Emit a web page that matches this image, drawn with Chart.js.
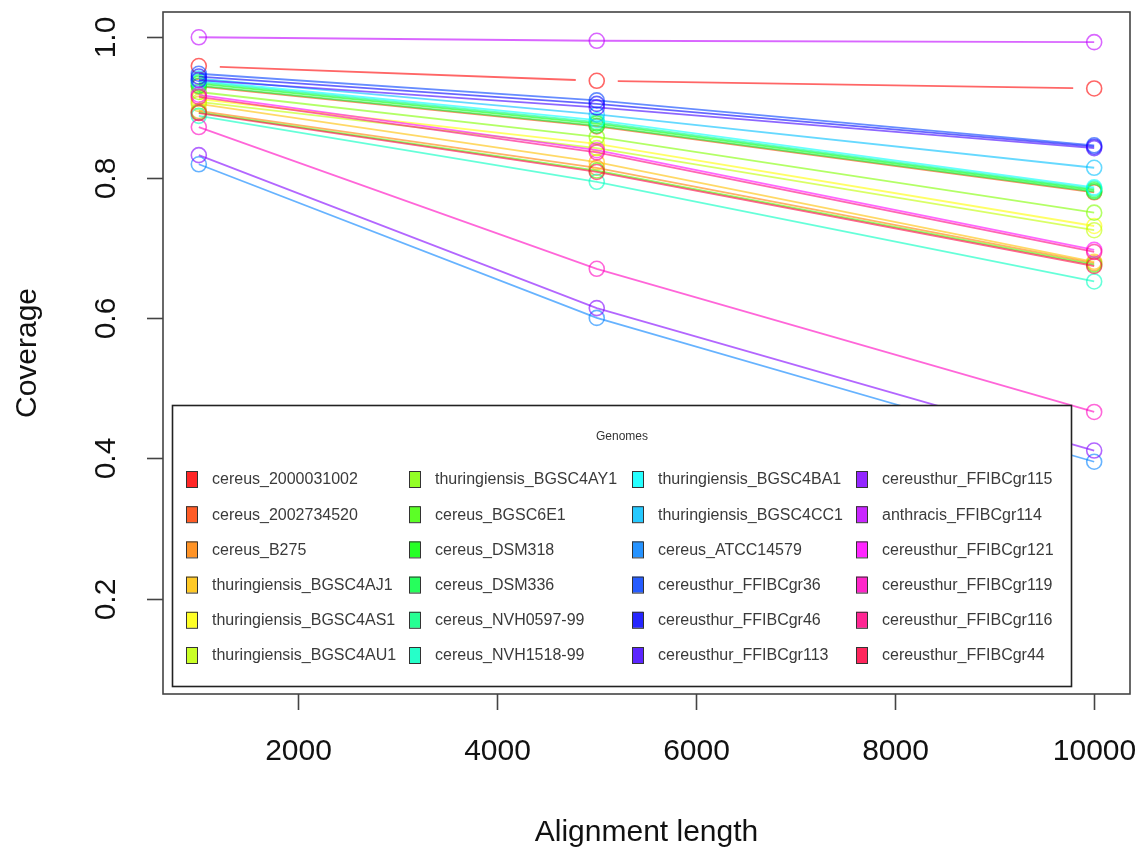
<!DOCTYPE html>
<html>
<head>
<meta charset="utf-8">
<script src="https://cdn.jsdelivr.net/npm/chart.js@4/dist/chart.umd.min.js"></script>
<style>
  html, body { margin: 0; padding: 0; background: #ffffff; }
  #wrap { width: 1141px; height: 852px; }
</style>
</head>
<body>
<div id="wrap"><canvas id="chart" width="1141" height="852"></canvas></div>
<script>
// Alignment lengths sampled
const alignmentLengths = [1000, 5000, 10000];

// Genome names, in legend order
const genomes = [
  "cereus_2000031002", "cereus_2002734520", "cereus_B275", "thuringiensis_BGSC4AJ1",
  "thuringiensis_BGSC4AS1", "thuringiensis_BGSC4AU1", "thuringiensis_BGSC4AY1", "cereus_BGSC6E1",
  "cereus_DSM318", "cereus_DSM336", "cereus_NVH0597-99", "cereus_NVH1518-99",
  "thuringiensis_BGSC4BA1", "thuringiensis_BGSC4CC1", "cereus_ATCC14579", "cereusthur_FFIBCgr36",
  "cereusthur_FFIBCgr46", "cereusthur_FFIBCgr113", "cereusthur_FFIBCgr115", "anthracis_FFIBCgr114",
  "cereusthur_FFIBCgr121", "cereusthur_FFIBCgr119", "cereusthur_FFIBCgr116", "cereusthur_FFIBCgr44"
];

// Coverage of each genome at each alignment length
const coverageAt1000 = [
  0.959, 0.930, 0.895, 0.905, 0.912, 0.908, 0.922, 0.893,
  0.934, 0.931, 0.936, 0.888, 0.938, 0.941, 0.819, 0.948,
  0.944, 0.939, 0.832, 1.000, 0.918, 0.872, 0.915, 0.892
];
const coverageAt5000 = [
  0.938, 0.873, 0.814, 0.822, 0.848, 0.842, 0.858, 0.810,
  0.877, 0.874, 0.879, 0.794, 0.882, 0.890, 0.600, 0.910,
  0.905, 0.900, 0.614, 0.995, 0.839, 0.670, 0.836, 0.808
];
const coverageAt10000 = [
  0.927, 0.779, 0.678, 0.680, 0.731, 0.725, 0.750, 0.676,
  0.782, 0.780, 0.784, 0.652, 0.786, 0.814, 0.395, 0.846,
  0.844, 0.842, 0.411, 0.993, 0.697, 0.466, 0.694, 0.674
];

// Axis ticks and titles
const xTicks = [2000, 4000, 6000, 8000, 10000];
const yTicks = [0.2, 0.4, 0.6, 0.8, 1.0];
const xTitle = "Alignment length";
const yTitle = "Coverage";
const legendTitle = "Genomes";

// rainbow palette, one hue per genome
function hue(i) { return (i * 360 / genomes.length); }
function lineColor(i) { return "hsla(" + hue(i) + ",100%,50%,0.6)"; }
function fillColor(i) { return "hsla(" + hue(i) + ",100%,50%,0.85)"; }

const series = [coverageAt1000, coverageAt5000, coverageAt10000];
const datasets = genomes.map((name, i) => ({
  label: name,
  data: alignmentLengths.map((x, k) => ({ x: x, y: series[k][i] })),
  borderColor: lineColor(i),
  backgroundColor: "rgba(0,0,0,0)",
  borderWidth: 1.8,
  showLine: i !== 0,
  pointStyle: "circle",
  pointRadius: 7.5,
  pointBorderWidth: 1.6,
  pointBorderColor: lineColor(i),
  pointBackgroundColor: "rgba(0,0,0,0)",
  tension: 0,
  order: -i
}));

const FONT = "'Liberation Sans', Arial, Helvetica, sans-serif";

// first series is drawn with gaps around each point ("both" style)
const gappedLine = {
  id: "gappedLine",
  afterDatasetDraw(chart, args) {
    if (args.index !== 0) return;
    const pts = args.meta.data;
    const ctx = chart.ctx;
    const gap = 21;
    ctx.save();
    ctx.strokeStyle = lineColor(0);
    ctx.lineWidth = 1.8;
    for (let k = 0; k < pts.length - 1; k++) {
      const a = pts[k], b = pts[k + 1];
      const dx = b.x - a.x, dy = b.y - a.y;
      const len = Math.hypot(dx, dy);
      const ux = dx / len, uy = dy / len;
      ctx.beginPath();
      ctx.moveTo(a.x + ux * gap, a.y + uy * gap);
      ctx.lineTo(b.x - ux * gap, b.y - uy * gap);
      ctx.stroke();
    }
    ctx.restore();
  }
};

// boxed legend with fill swatches in four columns
const boxLegend = {
  id: "boxLegend",
  afterDatasetsDraw(chart) {
    const ctx = chart.ctx;
    const box = { x: 172.5, y: 405.5, w: 899, h: 281 };
    ctx.save();
    ctx.fillStyle = "#ffffff";
    ctx.fillRect(box.x, box.y, box.w, box.h);
    ctx.strokeStyle = "#222";
    ctx.lineWidth = 1.6;
    ctx.strokeRect(box.x, box.y, box.w, box.h);

    ctx.fillStyle = "#333";
    ctx.font = "12px " + FONT;
    ctx.textAlign = "center";
    ctx.textBaseline = "middle";
    ctx.fillText(legendTitle, 622, 437);

    const swatchX = [186, 409, 632, 856];
    const textX = [212, 435, 658, 882];
    const rows = 6;
    ctx.font = "16px " + FONT;
    ctx.textAlign = "left";
    genomes.forEach((name, i) => {
      const col = Math.floor(i / rows), row = i % rows;
      const cy = 479 + row * 35.2;
      ctx.fillStyle = fillColor(i);
      ctx.fillRect(swatchX[col], cy - 8, 11, 16);
      ctx.strokeStyle = "#333";
      ctx.lineWidth = 1;
      ctx.strokeRect(swatchX[col] + 0.5, cy - 7.5, 11, 16);
      ctx.fillStyle = "#3a3a3a";
      ctx.fillText(name, textX[col], cy + 1);
    });
    ctx.restore();
  }
};

// frame, ticks and axis titles
const frameAxes = {
  id: "frameAxes",
  afterDraw(chart) {
    const ctx = chart.ctx;
    const a = chart.chartArea;
    const xs = chart.scales.x, ys = chart.scales.y;
    ctx.save();
    ctx.strokeStyle = "#444";
    ctx.lineWidth = 1.6;
    ctx.strokeRect(a.left, a.top, a.right - a.left, a.bottom - a.top);

    ctx.fillStyle = "#111";
    ctx.font = "30px " + FONT;
    ctx.textAlign = "center";
    ctx.textBaseline = "middle";
    xTicks.forEach(v => {
      const px = Math.round(xs.getPixelForValue(v)) + 0.5;
      ctx.beginPath();
      ctx.moveTo(px, a.bottom);
      ctx.lineTo(px, a.bottom + 16);
      ctx.stroke();
      ctx.fillText(String(v), px, 752);
    });
    yTicks.forEach(v => {
      const py = Math.round(ys.getPixelForValue(v)) + 0.5;
      ctx.beginPath();
      ctx.moveTo(a.left - 16, py);
      ctx.lineTo(a.left, py);
      ctx.stroke();
      ctx.save();
      ctx.translate(107, py);
      ctx.rotate(-Math.PI / 2);
      ctx.fillText(v.toFixed(1), 0, 0);
      ctx.restore();
    });
    ctx.fillText(xTitle, (a.left + a.right) / 2, 833);
    ctx.save();
    ctx.translate(28, (a.top + a.bottom) / 2);
    ctx.rotate(-Math.PI / 2);
    ctx.fillText(yTitle, 0, 0);
    ctx.restore();
    ctx.restore();
  }
};

new Chart(document.getElementById("chart").getContext("2d"), {
  type: "line",
  data: { datasets: datasets },
  options: {
    responsive: false,
    animation: false,
    devicePixelRatio: 1,
    layout: { padding: { left: 163, right: 11, top: 12, bottom: 158 } },
    plugins: { legend: { display: false }, tooltip: { enabled: false } },
    scales: {
      x: { type: "linear", min: 640, max: 10360, display: false },
      y: { type: "linear", min: 0.064, max: 1.036, display: false }
    }
  },
  plugins: [gappedLine, boxLegend, frameAxes]
});
</script>
</body>
</html>
